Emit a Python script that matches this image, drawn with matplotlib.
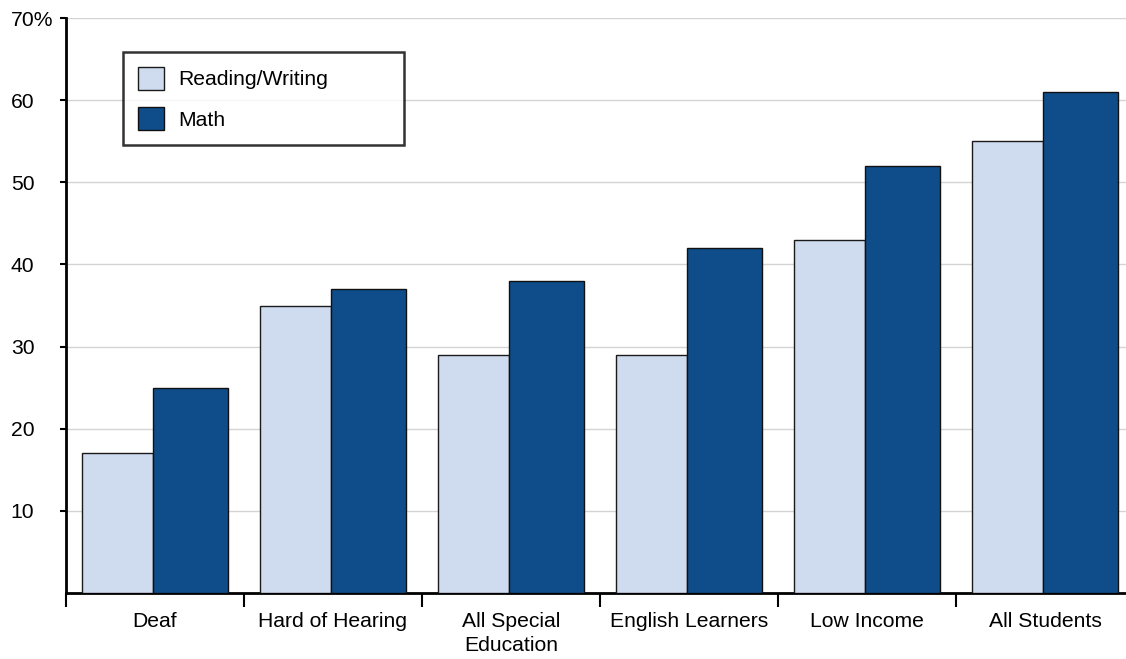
import matplotlib
matplotlib.use("Agg")
import matplotlib.pyplot as plt
import numpy as np

categories = ["Deaf", "Hard of Hearing", "All Special\nEducation",
              "English Learners", "Low Income", "All Students"]
reading_writing = [17, 35, 29, 29, 43, 55]
math_vals = [25, 37, 38, 42, 52, 61]
y_ticks = [10, 20, 30, 40, 50, 60, 70]
y_tick_labels = ["10", "20", "30", "40", "50", "60", "70%"]

plt.rcParams['font.family'] = ['Liberation Sans', 'DejaVu Sans']

fig = plt.figure(figsize=(11.26, 6.59), dpi=100)
ax = fig.add_axes([66/1126, 66/659, 1060/1126, 575/659])

light = "#CFDCF0"
dark = "#0E4C8A"
x = np.arange(len(categories))
rw_off, rw_w = 0.09, 0.40
m_w = 0.42
ax.bar(x + rw_off, reading_writing, width=rw_w, align='edge', color=light,
       edgecolor="#1a1a1a", linewidth=1.0, label="Reading/Writing", zorder=3)
ax.bar(x + rw_off + rw_w, math_vals, width=m_w, align='edge', color=dark,
       edgecolor="#111111", linewidth=1.0, label="Math", zorder=3)

ax.set_xlim(0, 1060/178)
ax.set_ylim(0, 70)

for s in ["top", "right"]:
    ax.spines[s].set_visible(False)
ax.spines["left"].set_linewidth(2)
ax.spines["bottom"].set_linewidth(2)

fs = 15.2
ax.set_yticks(y_ticks)
ax.set_yticklabels(y_tick_labels, fontsize=fs)
for t in ax.get_yticklabels():
    t.set_horizontalalignment('left')
ax.tick_params(axis='y', length=4.5, width=1.5, pad=35.3, direction='out')
ax.yaxis.grid(True, color="#d4d4d4", linewidth=1.0, zorder=0)
ax.set_axisbelow(True)

ax.set_xticks(x)
ax.set_xticklabels([])
ax.set_xticks(x + 0.5, minor=True)
ax.set_xticklabels(categories, minor=True, fontsize=fs, linespacing=1.3)
ax.tick_params(axis='x', which='major', length=10, width=1.5, direction='out')
ax.tick_params(axis='x', which='minor', length=0, pad=14)

leg = ax.legend(loc='upper left', bbox_to_anchor=(57/1060, (593-52)/575, 281/1060, 0.0),
                mode='expand', fontsize=fs, frameon=True, fancybox=False,
                edgecolor='black', borderpad=0.72, handlelength=1.2, handleheight=1.25,
                handletextpad=0.7, labelspacing=0.85, borderaxespad=0)
leg.get_frame().set_linewidth(1.8)

fig.savefig("out.png", dpi=100)
